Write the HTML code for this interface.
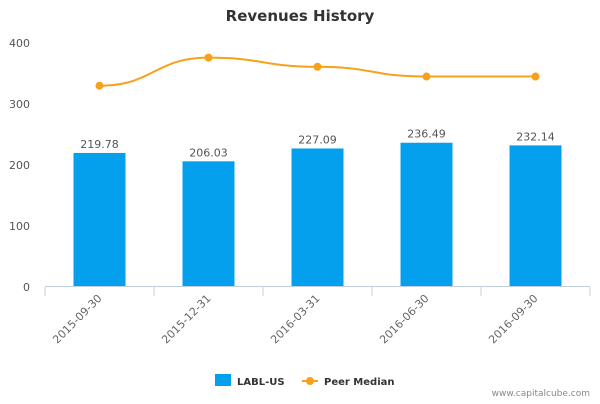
<!DOCTYPE html>
<html><head><meta charset="utf-8"><style>
body{margin:0;background:#fff;font-family:"DejaVu Sans","Liberation Sans",sans-serif;}
svg text{font-family:"DejaVu Sans","Liberation Sans",sans-serif;}
</style></head><body>
<svg id="chart" width="600" height="400" xmlns="http://www.w3.org/2000/svg">
<text x="300" y="21" text-anchor="middle" font-size="15" font-weight="bold" fill="#333">Revenues History</text>
<g id="yaxis"></g><g id="bars"></g><g id="xaxis"></g><g id="line"></g>
<g>
<g><rect x="215" y="374" width="16" height="12" fill="#04a0ee"/><text x="237" y="385" font-size="10" font-weight="bold" fill="#333">LABL-US</text></g>
<g><line x1="302" y1="381" x2="318" y2="381" stroke="#f7a11a" stroke-width="2"/><circle cx="310" cy="381" r="4" fill="#f7a11a"/><text x="324" y="385" font-size="10" font-weight="bold" fill="#333">Peer Median</text></g>
</g>
<text x="590" y="396" text-anchor="end" font-size="9" fill="#888">www.capitalcube.com</text>
</svg>
<script>
const categories=["2015-09-30","2015-12-31","2016-03-31","2016-06-30","2016-09-30"];
const revenues=[219.78,206.03,227.09,236.49,232.14];
const peerMedian=[330,376,361,345,345];
const yTicks=[0,100,200,300,400];
const NS="http://www.w3.org/2000/svg";
const x0=45,x1=590,yBase=287,yTop=43,yMax=400;
const band=(x1-x0)/categories.length;
const xC=i=>x0+band*(i+0.5);
const yS=v=>yBase-(v/yMax)*(yBase-yTop);
function mk(tag,attrs,parent,txt){const e=document.createElementNS(NS,tag);for(const k in attrs)e.setAttribute(k,attrs[k]);if(txt!==undefined)e.textContent=txt;document.getElementById(parent).appendChild(e);return e;}
yTicks.forEach(t=>{const e=mk('text',{x:30,y:yS(t)+4,'text-anchor':'end','font-size':11,fill:'#555'},'yaxis',t);

});
const ax=mk('line',{x1:x0,y1:yBase-0.5,x2:x1,y2:yBase-0.5,stroke:'#c0d0e0','stroke-width':1},'xaxis');


for(let i=0;i<=categories.length;i++){const tk=mk('line',{x1:x0+band*i,y1:yBase,x2:x0+band*i,y2:yBase+9,stroke:'#c0d0e0'},'xaxis');

}
categories.forEach((c,i)=>{
const cx=xC(i);
const b=mk('rect',{x:cx-26,y:yS(revenues[i]),width:52,height:yBase-yS(revenues[i]),fill:'#04a0ee'},'bars');


const v=mk('text',{x:cx,y:yS(revenues[i])-5,'text-anchor':'middle','font-size':11,fill:'#555'},'bars',revenues[i].toFixed(2));


const l=mk('text',{x:cx+3,y:yBase+12,'text-anchor':'end','font-size':11,fill:'#666',transform:`rotate(-45 ${cx+3} ${yBase+12})`},'xaxis',c);


});
const pts=peerMedian.map((v,i)=>[xC(i),yS(v)]);
let d=`M${pts[0][0]},${pts[0][1]}`;
for(let i=0;i<pts.length-1;i++){const p=pts[i],q=pts[i+1],m=(q[0]-p[0])/2;d+=` C${p[0]+m},${i==0?p[1]:(p[1]+(pts[i-1]?0:0))} ${q[0]-m},${q[1]} ${q[0]},${q[1]}`;}
const path=mk('path',{d:d,fill:'none',stroke:'#f7a11a','stroke-width':2},'line');


pts.forEach((p,i)=>{const c=mk('circle',{cx:p[0],cy:p[1],r:4,fill:'#f7a11a'},'line');

});
</script>
</body></html>
